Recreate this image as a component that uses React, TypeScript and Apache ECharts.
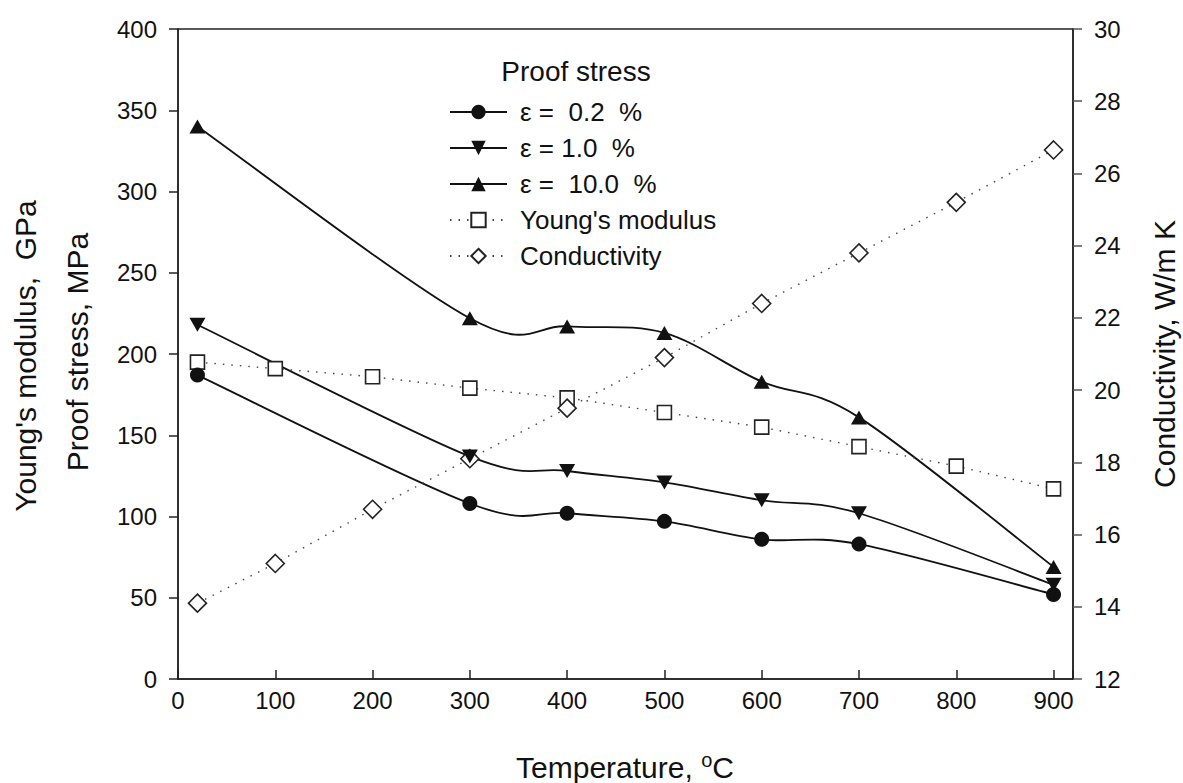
import React, { useEffect, useRef } from 'react';
import * as echarts from 'echarts';

// ---- data ----
const proofTemps = [20, 300, 400, 500, 600, 700, 900];
const stress02 = [187, 108, 102, 97, 86, 83, 52];
const stress10 = [218, 137, 128, 121, 110, 102, 58];
const stress100 = [340, 222, 217, 213, 183, 161, 69];

const propTemps = [20, 100, 200, 300, 400, 500, 600, 700, 800, 900];
const youngs = [195, 191, 186, 179, 173, 164, 155, 143, 131, 117];
const conductivity = [14.1, 15.2, 16.7, 18.1, 19.5, 20.9, 22.4, 23.8, 25.2, 26.65];

const seriesNames = ['ε =  0.2  %', 'ε = 1.0  %', 'ε =  10.0  %', "Young's modulus", 'Conductivity'];
const legendTitle = 'Proof stress';
const xTitle = 'Temperature, ';
const leftTitle1 = "Young's modulus,  GPa";
const leftTitle2 = 'Proof stress, MPa';
const rightTitle = 'Conductivity, W/m K';

const FONT = '"Liberation Sans", Arial, sans-serif';
const INK = '#111';
const AXIS = '#222';

function pairs(xs: number[], ys: number[]) {
  return xs.map((x, i) => [x, ys[i]]);
}

function curveSeries(id: string, xs: number[], ys: number[]) {
  return {
    type: 'custom',
    name: id,
    xAxisIndex: 0,
    yAxisIndex: 0,
    silent: true,
    z: 2,
    encode: { x: 0, y: 1 },
    data: pairs(xs, ys),
    renderItem: (params: any, api: any) => {
      if (params.dataIndex !== 0) return null;
      const pts = xs.map((x, i) => api.coord([x, ys[i]]));
      let d = `M${pts[0][0]},${pts[0][1]}`;
      for (let i = 0; i < pts.length - 1; i++) {
        const p0 = pts[i - 1] || pts[i];
        const p1 = pts[i];
        const p2 = pts[i + 1];
        const p3 = pts[i + 2] || pts[i + 1];
        const c1x = p1[0] + (p2[0] - p0[0]) / 6;
        const c1y = p1[1] + (p2[1] - p0[1]) / 6;
        const c2x = p2[0] - (p3[0] - p1[0]) / 6;
        const c2y = p2[1] - (p3[1] - p1[1]) / 6;
        d += ` C${c1x},${c1y} ${c2x},${c2y} ${p2[0]},${p2[1]}`;
      }
      return {
        type: 'path',
        shape: { pathData: d },
        style: { fill: 'none', stroke: INK, lineWidth: 1.8 },
      };
    },
  };
}

function markerSeries(name: string, ys: number[], symbol: string, size: any) {
  return {
    type: 'line',
    name,
    xAxisIndex: 0,
    yAxisIndex: 0,
    data: pairs(proofTemps, ys),
    symbol,
    symbolSize: size,
    showAllSymbol: true,
    itemStyle: { color: INK },
    lineStyle: { opacity: 0, color: INK, width: 1.8 },
    z: 4,
  };
}

const solidLegendLine = { opacity: 1, width: 1.8, color: INK, type: 'solid' };

export default function App() {
  const ref = useRef<HTMLDivElement>(null);
  useEffect(() => {
    if (!ref.current) return;
    const chart = echarts.init(ref.current, undefined, { renderer: 'svg' });
    const option: any = {
      animation: false,
      backgroundColor: '#fff',
      textStyle: { fontFamily: FONT, color: INK },
      grid: {
        left: 178,
        right: 110,
        top: 29,
        bottom: 104,
        show: true,
        borderColor: AXIS,
        borderWidth: 1.5,
        outerBoundsMode: 'none',
      },
      legend: {
        orient: 'vertical',
        left: 449,
        top: 99,
        padding: 0,
        itemWidth: 57,
        itemHeight: 18,
        itemGap: 10,
        textStyle: { fontFamily: FONT, fontSize: 26, lineHeight: 24, color: INK, padding: [0, 0, 0, 8] },
        data: [
          { name: seriesNames[0], lineStyle: solidLegendLine },
          { name: seriesNames[1], lineStyle: solidLegendLine },
          { name: seriesNames[2], lineStyle: solidLegendLine },
          { name: seriesNames[3] },
          { name: seriesNames[4] },
        ],
      },
      xAxis: {
        type: 'value',
        min: 0,
        max: 920,
        interval: 100,
        axisLine: { show: true, lineStyle: { color: AXIS, width: 1.5 } },
        axisTick: { show: true, inside: true, length: 9, lineStyle: { color: AXIS, width: 1.5 } },
        axisLabel: {
          fontFamily: FONT,
          fontSize: 24,
          color: INK,
          margin: 9,
          formatter: (v: number) => (v > 900 ? '' : String(v)),
        },
        splitLine: { show: false },
      },
      yAxis: [
        {
          type: 'value',
          position: 'left',
          min: 0,
          max: 400,
          interval: 50,
          axisLine: { show: true, lineStyle: { color: AXIS, width: 1.5 } },
          axisTick: { show: true, inside: false, length: 9, lineStyle: { color: AXIS, width: 1.5 } },
          axisLabel: { fontFamily: FONT, fontSize: 24, color: INK, margin: 21 },
          splitLine: { show: false },
        },
        {
          type: 'value',
          position: 'right',
          min: 12,
          max: 30,
          interval: 2,
          axisLine: { show: true, lineStyle: { color: AXIS, width: 1.5 } },
          axisTick: { show: true, inside: false, length: 9, lineStyle: { color: '#555', width: 1.5 } },
          axisLabel: { fontFamily: FONT, fontSize: 24, color: INK, margin: 21 },
          splitLine: { show: false },
        },
      ],
      graphic: [
        {
          type: 'text',
          x: 576,
          y: 71,
          style: { text: legendTitle, fontFamily: FONT, fontSize: 28, fill: INK, textAlign: 'center', textVerticalAlign: 'middle' },
        },
        {
          type: 'text',
          x: 625,
          y: 767,
          style: {
            text: xTitle + '{s|o}C',
            fontFamily: FONT,
            fontSize: 30,
            fill: INK,
            textAlign: 'center',
            textVerticalAlign: 'middle',
            rich: { s: { fontFamily: FONT, fontSize: 20, fill: INK, verticalAlign: 'top', padding: [0, 0, 14, 0] } },
          },
        },
        {
          type: 'text',
          x: 25,
          y: 356,
          rotation: Math.PI / 2,
          style: { text: leftTitle1, fontFamily: FONT, fontSize: 30, fill: INK, textAlign: 'center', textVerticalAlign: 'middle' },
        },
        {
          type: 'text',
          x: 77,
          y: 352,
          rotation: Math.PI / 2,
          style: { text: leftTitle2, fontFamily: FONT, fontSize: 30, fill: INK, textAlign: 'center', textVerticalAlign: 'middle' },
        },
        {
          type: 'text',
          x: 1164,
          y: 354,
          rotation: Math.PI / 2,
          style: { text: rightTitle, fontFamily: FONT, fontSize: 30, fill: INK, textAlign: 'center', textVerticalAlign: 'middle' },
        },
      ],
      series: [
        curveSeries('curve02', proofTemps, stress02),
        curveSeries('curve10', proofTemps, stress10),
        curveSeries('curve100', proofTemps, stress100),
        markerSeries(seriesNames[0], stress02, 'circle', 15),
        markerSeries(seriesNames[1], stress10, 'path://M0,0L10,0L5,9Z', [16, 14]),
        markerSeries(seriesNames[2], stress100, 'triangle', [16, 14]),
        {
          type: 'line',
          name: seriesNames[3],
          xAxisIndex: 0,
          yAxisIndex: 0,
          data: pairs(propTemps, youngs),
          symbol: 'rect',
          symbolSize: 14,
          showAllSymbol: true,
          itemStyle: { color: '#fff', borderColor: AXIS, borderWidth: 1.6 },
          lineStyle: { color: '#444', width: 1.4, type: [1.5, 7] },
          z: 3,
        },
        {
          type: 'line',
          name: seriesNames[4],
          xAxisIndex: 0,
          yAxisIndex: 1,
          data: pairs(propTemps, conductivity),
          symbol: 'diamond',
          symbolSize: [18, 18],
          showAllSymbol: true,
          itemStyle: { color: '#fff', borderColor: AXIS, borderWidth: 1.6 },
          lineStyle: { color: '#444', width: 1.4, type: [1.5, 7] },
          z: 3,
        },
      ],
    };
    chart.setOption(option);
    return () => chart.dispose();
  }, []);
  return (
    <div
      ref={ref}
      style={{ position: 'fixed', left: 0, top: 0, width: 1183, height: 783, background: '#fff' }}
    />
  );
}
